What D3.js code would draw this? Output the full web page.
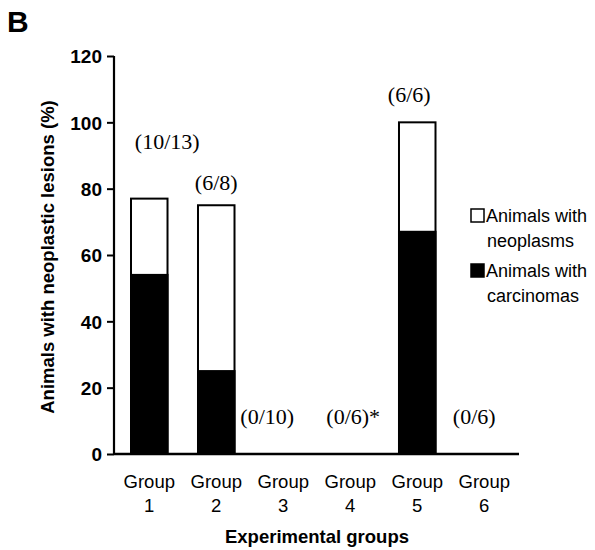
<!DOCTYPE html>
<html>
<head>
<meta charset="utf-8">
<script src="https://cdn.jsdelivr.net/npm/d3@7"></script>
<style>
  body { margin: 0; background: #fff; }
  svg { display: block; }
</style>
</head>
<body>
<div id="main"></div>
<script>
// data
var groups = ["1", "2", "3", "4", "5", "6"];
var neoplasms = [77, 75, 0, 0, 100, 0];     // total % with neoplastic lesions
var carcinomas = [54, 25, 0, 0, 67, 0];     // % with carcinomas
var counts = ["(10/13)", "(6/8)", "(0/10)", "(0/6)*", "(6/6)", "(0/6)"];
var countAt = [92, 79.5, 9, 9, 106, 9];     // y value where each count label sits
var yTicks = [0, 20, 40, 60, 80, 100, 120];

var width = 595, height = 550;
var sans = "Liberation Sans, Arial, sans-serif";
var serif = "Liberation Serif, Times New Roman, serif";
var labelDx = [18, 0, -16, 3, -8, -10];   // nudges of the count labels off the bar centre

const svg = d3.select("#main").append("svg")
    .attr("width", width)
    .attr("height", height);

const x = d3.scaleBand()
    .domain(groups)
    .range([131, 502.5])
    .paddingInner(0.455)
    .paddingOuter(0);

const y = d3.scaleLinear()
    .domain([0, 120])
    .range([454, 56]);

// panel letter
svg.append("text")
    .attr("x", 7).attr("y", 32)
    .attr("font-family", sans)
    .attr("font-weight", "bold")
    .attr("font-size", 30)
    .text("B");

// bars: white (neoplasms) then black (carcinomas)
const bars = svg.append("g");
bars.selectAll("rect.neo")
  .data(groups)
  .join("rect")
    .attr("class", "neo")
    .attr("x", d => x(d))
    .attr("width", x.bandwidth())
    .attr("y", (d, i) => y(neoplasms[i]))
    .attr("height", (d, i) => y(0) - y(neoplasms[i]))
    .attr("fill", "#fff")
    .attr("stroke", "#000")
    .attr("stroke-width", 2)
    .attr("display", (d, i) => neoplasms[i] > 0 ? null : "none");

bars.selectAll("rect.carc")
  .data(groups)
  .join("rect")
    .attr("class", "carc")
    .attr("x", d => x(d))
    .attr("width", x.bandwidth())
    .attr("y", (d, i) => y(carcinomas[i]))
    .attr("height", (d, i) => y(0) - y(carcinomas[i]))
    .attr("fill", "#000")
    .attr("stroke", "#000")
    .attr("stroke-width", 2)
    .attr("display", (d, i) => carcinomas[i] > 0 ? null : "none");

// count labels
svg.append("g")
    .attr("font-family", serif)
    .attr("font-size", 22)
    .attr("text-anchor", "middle")
  .selectAll("text")
  .data(groups)
  .join("text")
    .attr("x", (d, i) => x(d) + x.bandwidth() / 2 + labelDx[i])
    .attr("y", (d, i) => y(countAt[i]))
    .text((d, i) => counts[i]);

// y axis
const yAxis = svg.append("g")
    .attr("transform", "translate(114,0)")
    .call(d3.axisLeft(y).tickValues(yTicks).tickSize(7).tickPadding(5));
yAxis.select(".domain").attr("stroke-width", 2.2).attr("d", "M0," + y(120) + "V" + y(0));
yAxis.selectAll(".tick line").attr("stroke-width", 2);
yAxis.selectAll(".tick text")
    .attr("font-family", sans)
    .attr("font-size", 19)
    .attr("font-weight", "bold")
    .attr("dy", "0.36em")
    .attr("fill", "#000");

// x axis baseline
svg.append("line")
    .attr("x1", 114).attr("x2", 519)
    .attr("y1", y(0)).attr("y2", y(0))
    .attr("stroke", "#000")
    .attr("stroke-width", 2.4);

// group labels
const gl = svg.append("g")
    .attr("font-family", sans)
    .attr("font-size", 18.5)
    .attr("text-anchor", "middle")
  .selectAll("g")
  .data(groups)
  .join("g")
    .attr("transform", d => `translate(${x(d) + x.bandwidth() / 2},0)`);
gl.append("text").attr("y", 488).text("Group");
gl.append("text").attr("y", 512).text(d => d);

// axis titles
svg.append("text")
    .attr("x", 317).attr("y", 543)
    .attr("text-anchor", "middle")
    .attr("font-family", sans)
    .attr("font-weight", "bold")
    .attr("font-size", 18.5)
    .text("Experimental groups");

svg.append("text")
    .attr("transform", "translate(54,257) rotate(-90)")
    .attr("text-anchor", "middle")
    .attr("font-family", sans)
    .attr("font-weight", "bold")
    .attr("font-size", 18.5)
    .text("Animals with neoplastic lesions (%)");

// legend
var legendItems = [
  {fill: "#fff", lines: ["Animals with", "neoplasms"]},
  {fill: "#000", lines: ["Animals with", "carcinomas"]}
];
const lg = svg.append("g")
    .attr("font-family", sans)
    .attr("font-size", 18)
  .selectAll("g")
  .data(legendItems)
  .join("g")
    .attr("transform", (d, i) => `translate(470,${208 + i * 55})`);
lg.append("rect")
    .attr("x", 1).attr("y", 1)
    .attr("width", 13).attr("height", 13)
    .attr("fill", d => d.fill)
    .attr("stroke", "#000")
    .attr("stroke-width", 1.5);
lg.append("text").attr("x", 16).attr("y", 14).text(d => d.lines[0]);
lg.append("text").attr("x", 17).attr("y", 39).text(d => d.lines[1]);
</script>
</body>
</html>
